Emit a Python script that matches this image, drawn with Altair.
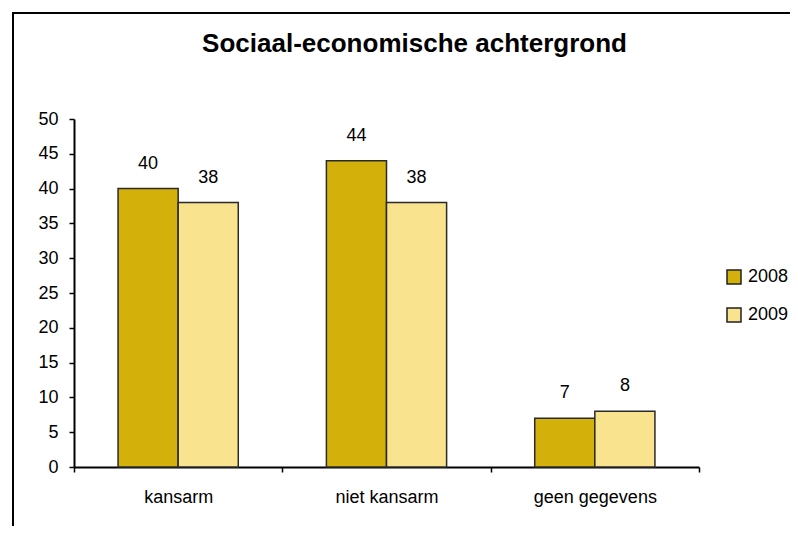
import altair as alt
import pandas as pd

categories = ["kansarm", "niet kansarm", "geen gegevens"]
years = ["2008", "2009"]
values_2008 = [40, 44, 7]
values_2009 = [38, 38, 8]
y_ticks = [0, 5, 10, 15, 20, 25, 30, 35, 40, 45, 50]
colors = ["#D4B00A", "#F9E38E"]

rows = []
for c, v in zip(categories, values_2008):
    rows.append({"cat": c, "jaar": "2008", "waarde": v})
for c, v in zip(categories, values_2009):
    rows.append({"cat": c, "jaar": "2009", "waarde": v})
df = pd.DataFrame(rows)

FONT = "Liberation Sans"

x = alt.X("cat:N", sort=categories, title=None,
          scale=alt.Scale(paddingInner=0, paddingOuter=0),
          axis=alt.Axis(labelAngle=0, labelFont=FONT, labelFontSize=18, labelColor="black",
                        domainColor="black", domainWidth=2, tickColor="black", tickWidth=1.5,
                        tickSize=5, tickBand="extent", labelPadding=16))
xo = alt.XOffset("jaar:N", sort=years, scale=alt.Scale(paddingInner=0, paddingOuter=0.733))
y = alt.Y("waarde:Q", title=None,
          scale=alt.Scale(domain=[0, 50], nice=False),
          axis=alt.Axis(values=y_ticks, grid=False, labelFont=FONT, labelFontSize=18,
                        labelColor="black", domainColor="black", domainWidth=2,
                        tickColor="black", tickWidth=1.5, tickSize=5, labelPadding=11))
color = alt.Color("jaar:N", sort=years, scale=alt.Scale(domain=years, range=colors),
                  legend=alt.Legend(title=None, orient="none", legendX=651, legendY=149,
                                    symbolType="square", symbolSize=196, symbolStrokeColor="#222",
                                    symbolStrokeWidth=1.5, symbolOpacity=1,
                                    labelFont=FONT, labelFontSize=18, labelColor="black",
                                    rowPadding=18, padding=0, labelOffset=5))

base = alt.Chart(df)
bars = base.mark_bar(stroke="#2a2a2a", strokeWidth=1.5, opacity=1).encode(
    x=x, xOffset=xo, y=y, color=color)
labels = base.mark_text(baseline="alphabetic", dy=-20, font=FONT, fontSize=18, color="black").encode(
    x=x, xOffset=xo, y=y, text="waarde:Q")
frame_data = pd.DataFrame({"a": [0]})
border_left = alt.Chart(frame_data).mark_rule(color="black", strokeWidth=2).encode(
    x=alt.value(-61), y=alt.value(-107), y2=alt.value(407))
border_top = alt.Chart(frame_data).mark_rule(color="black", strokeWidth=2).encode(
    x=alt.value(-62), x2=alt.value(716), y=alt.value(-106))

chart = alt.layer(border_left, border_top, bars, labels).properties(
    width=625, height=348,
    title=alt.TitleParams("Sociaal-economische achtergrond", font=FONT, fontSize=26,
                          fontWeight="bold", color="black", anchor="middle", dx=28,
                          baseline="alphabetic", offset=-67, frame="group"),
    autosize=alt.AutoSizeParams(type="none"),
    padding={"left": 66, "top": 111, "right": 91, "bottom": 59},
    background="white",
).configure_view(strokeWidth=0, stroke="transparent")

chart.save("out.html", embed_options={"renderer": "svg", "actions": False})
